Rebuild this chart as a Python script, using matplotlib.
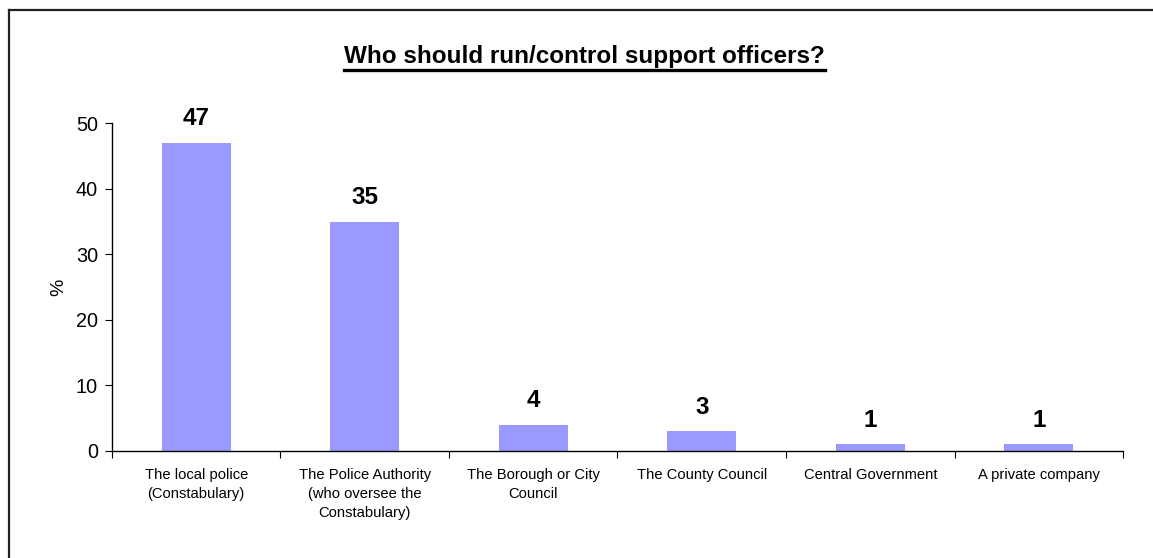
import numpy as np
import matplotlib

matplotlib.use("Agg")
import matplotlib.pyplot as plt
from matplotlib.lines import Line2D

plt.rcParams["font.family"] = ["Liberation Sans", "DejaVu Sans"]

categories = [
    "The local police\n(Constabulary)",
    "The Police Authority\n(who oversee the\nConstabulary)",
    "The Borough or City\nCouncil",
    "The County Council",
    "Central Government",
    "A private company",
]
percent = [47, 35, 4, 3, 1, 1]
title = "Who should run/control support officers?"

fig = plt.figure(figsize=(11.53, 5.58), dpi=100)
ax = fig.add_axes([0.0971, 0.1918, 0.8769, 0.5872])

x = np.arange(len(categories)) + 0.5
bars = ax.bar(x, percent, width=0.41, color="#9999FF", edgecolor="none")

for b, v in zip(bars, percent):
    ax.annotate(f"{v}", (b.get_x() + b.get_width() / 2, v),
                xytext=(0, 9), textcoords="offset points",
                ha="center", va="bottom", fontsize=17.5, fontweight="bold")

ax.set_xlim(0, len(categories))
ax.set_ylim(0, 50)
ax.set_yticks(range(0, 51, 10))
ax.tick_params(axis="y", labelsize=14.3, length=5, direction="out", pad=5)

# category boundaries get the tick marks, centres carry the labels
ax.set_xticks(np.arange(len(categories) + 1))
ax.set_xticklabels([])
ax.set_xticks(x, minor=True)
ax.set_xticklabels(categories, minor=True, fontsize=10.6, linespacing=1.48, va="top")
ax.tick_params(axis="x", which="major", length=5, direction="out")
ax.tick_params(axis="x", which="minor", length=0, pad=12)

ax.set_ylabel("%", fontsize=14, labelpad=6)
for side in ("top", "right"):
    ax.spines[side].set_visible(False)
for side in ("left", "bottom"):
    ax.spines[side].set_linewidth(1.0)

t = fig.text(0.507, 0.898, title, ha="center", va="center",
             fontsize=17.5, fontweight="bold")

# underline the title and frame the chart area (top and left edges)
fig.canvas.draw()
bb = t.get_window_extent().transformed(fig.transFigure.inverted())
fig.add_artist(Line2D([bb.x0, bb.x1], [bb.y0 - 0.002, bb.y0 - 0.002],
                      transform=fig.transFigure, color="black", lw=2.4))
fig.add_artist(Line2D([9 / 1153, 1.0], [1 - 10 / 558, 1 - 10 / 558],
                      transform=fig.transFigure, color="#222222", lw=1.6))
fig.add_artist(Line2D([9 / 1153, 9 / 1153], [0.0, 1 - 10 / 558],
                      transform=fig.transFigure, color="#222222", lw=1.6))

fig.savefig("out.png", dpi=100)
